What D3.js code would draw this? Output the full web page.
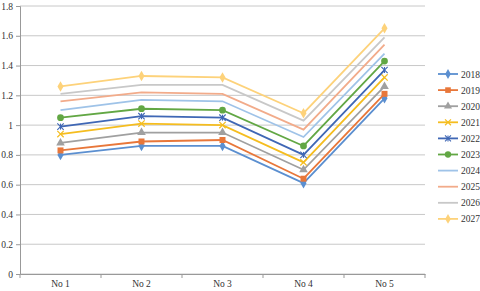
<!DOCTYPE html>
<html lang="en">
<head>
<meta charset="UTF-8">
<title>Chart</title>
<style>
    body { margin: 0; background: #fff; }
    svg text { font-family: "Liberation Serif", "Times New Roman", "DejaVu Serif", serif !important; font-size: 9.5px; fill: #333; }
</style>
<script src="https://d3js.org/d3.v7.min.js"></script>
</head>
<body>
<svg id="chart"></svg>
<script>
// Data
var categories = ["No 1", "No 2", "No 3", "No 4", "No 5"];
var years = ["2018", "2019", "2020", "2021", "2022", "2023", "2024", "2025", "2026", "2027"];
var v2018 = [0.80, 0.86, 0.86, 0.61, 1.18];
var v2019 = [0.83, 0.89, 0.90, 0.64, 1.21];
var v2020 = [0.88, 0.95, 0.95, 0.70, 1.26];
var v2021 = [0.94, 1.01, 1.00, 0.75, 1.32];
var v2022 = [0.99, 1.06, 1.05, 0.80, 1.37];
var v2023 = [1.05, 1.11, 1.10, 0.86, 1.43];
var v2024 = [1.10, 1.17, 1.16, 0.92, 1.48];
var v2025 = [1.16, 1.22, 1.21, 0.97, 1.54];
var v2026 = [1.21, 1.27, 1.27, 1.03, 1.59];
var v2027 = [1.26, 1.33, 1.32, 1.08, 1.65];
var yTicks = [0, 0.2, 0.4, 0.6, 0.8, 1, 1.2, 1.4, 1.6, 1.8];

var seriesValues = [v2018, v2019, v2020, v2021, v2022, v2023, v2024, v2025, v2026, v2027];
var colors = ["#5b8fd0", "#e8773a", "#a0a0a0", "#f5bd1f", "#3f67b5", "#62a744",
              "#9fc3e8", "#f2ab8a", "#c8c8c8", "#fdd27a"];
var markers = ["diamond", "square", "triangle", "x", "star", "circle", "plus", "none", "none", "diamond"];

var FONT = "'Liberation Serif', 'Times New Roman', serif";
var W = 480, H = 291;
var svg = d3.select("#chart").attr("width", W).attr("height", H);

var x = d3.scaleBand().domain(categories).range([20, 425]);
var y = d3.scaleLinear().domain([0, 1.8]).range([274, 6]);

// gridlines
svg.append("g").selectAll("line")
    .data(yTicks)
    .join("line")
    .attr("x1", 20).attr("x2", 425)
    .attr("y1", function(d) { return y(d); })
    .attr("y2", function(d) { return y(d); })
    .attr("stroke", "#c8c8c8").attr("stroke-width", 1);

// y axis
var yAxis = svg.append("g")
    .attr("transform", "translate(20,0)")
    .call(d3.axisLeft(y).tickValues(yTicks).tickSize(4).tickFormat(d3.format("")));
yAxis.attr("font-family", FONT).attr("font-size", 9.5);
yAxis.select(".domain").attr("stroke", "#999");
yAxis.selectAll(".tick line").attr("stroke", "#999");
yAxis.selectAll("text").attr("x", -7);

// x axis
var xAxis = svg.append("g")
    .attr("transform", "translate(0,274)")
    .call(d3.axisBottom(x).tickSize(0).tickPadding(6));
xAxis.attr("font-family", FONT).attr("font-size", 9.5);
xAxis.select(".domain").attr("stroke", "#999");
// band boundaries ticks
svg.append("g").selectAll("line")
    .data(categories.concat(["end"]))
    .join("line")
    .attr("x1", function(d, i) { return i < categories.length ? x(d) : x.range()[1]; })
    .attr("x2", function(d, i) { return i < categories.length ? x(d) : x.range()[1]; })
    .attr("y1", 274).attr("y2", 278)
    .attr("stroke", "#999");

function drawMarker(g, type, color, s) {
    if (type === "diamond") {
        g.append("path").attr("d", d3.symbol().type(d3.symbolDiamond).size(s * 4)()).attr("fill", color);
    } else if (type === "square") {
        g.append("path").attr("d", d3.symbol().type(d3.symbolSquare).size(s * 4.5)()).attr("fill", color);
    } else if (type === "triangle") {
        g.append("path").attr("d", d3.symbol().type(d3.symbolTriangle).size(s * 4)()).attr("fill", color);
    } else if (type === "circle") {
        g.append("path").attr("d", d3.symbol().type(d3.symbolCircle).size(s * 4.5)()).attr("fill", color);
    } else if (type === "x") {
        g.append("path").attr("d", d3.symbol().type(d3.symbolX).size(s * 3.5)()).attr("fill", "none").attr("stroke", color).attr("stroke-width", 1.2);
    } else if (type === "star") {
        g.append("path").attr("d", d3.symbol().type(d3.symbolX).size(s * 3.5)()).attr("fill", "none").attr("stroke", color).attr("stroke-width", 1.1);
        g.append("line").attr("x1", 0).attr("x2", 0).attr("y1", -3).attr("y2", 3).attr("stroke", color).attr("stroke-width", 1.1);
    } else if (type === "plus") {
        g.append("path").attr("d", d3.symbol().type(d3.symbolPlus).size(s * 3)()).attr("fill", color);
    }
}

var line = d3.line()
    .x(function(d, i) { return x(categories[i]) + x.bandwidth() / 2; })
    .y(function(d) { return y(d); });

seriesValues.forEach(function(vals, k) {
    var g = svg.append("g");
    g.append("path")
        .attr("d", line(vals))
        .attr("fill", "none")
        .attr("stroke", colors[k])
        .attr("stroke-width", 1.8);
    vals.forEach(function(v, i) {
        var m = g.append("g")
            .attr("transform", "translate(" + (x(categories[i]) + x.bandwidth() / 2) + "," + y(v) + ")");
        drawMarker(m, markers[k], colors[k], 8);
    });
});

// legend
var legend = svg.append("g").attr("transform", "translate(438,74)");
years.forEach(function(yr, k) {
    var row = legend.append("g").attr("transform", "translate(0," + (k * 16.1) + ")");
    row.append("line").attr("x1", 0).attr("x2", 20).attr("y1", 0).attr("y2", 0)
        .attr("stroke", colors[k]).attr("stroke-width", 1.8);
    var m = row.append("g").attr("transform", "translate(10,0)");
    drawMarker(m, markers[k], colors[k], 7);
    row.append("text").attr("x", 23).attr("y", 3.5)
        .attr("font-family", FONT).attr("font-size", 9.5).text(yr);
});
</script>
</body>
</html>
